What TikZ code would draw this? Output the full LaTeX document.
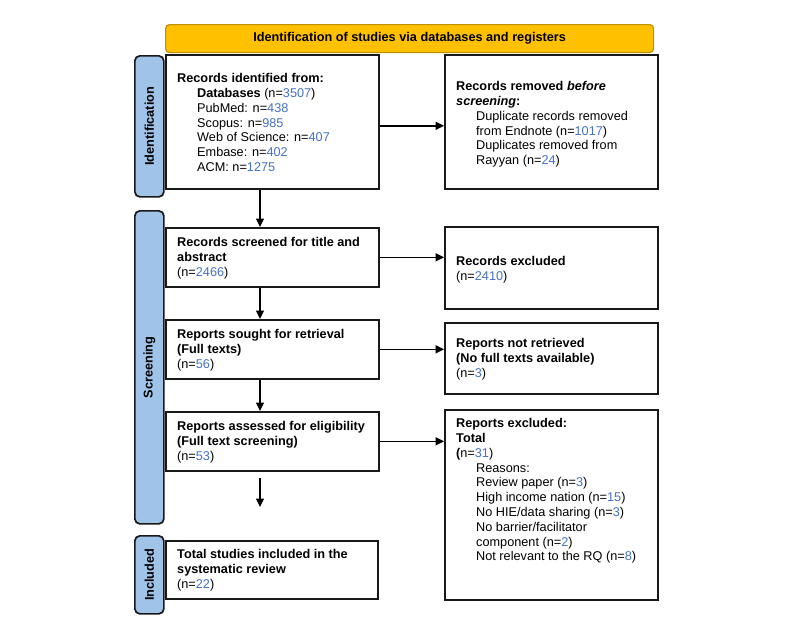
\documentclass[tikz,border=0pt]{standalone}
\usepackage{fontspec}
\setmainfont{Liberation Sans}
\usetikzlibrary{arrows.meta}
\definecolor{numblue}{RGB}{68,114,196}
\definecolor{sidefill}{RGB}{160,196,232}
\definecolor{bannerfill}{RGB}{255,192,0}
\definecolor{bannerdraw}{RGB}{191,144,0}
\newcommand{\nb}[1]{\textcolor{numblue}{#1}}
\newcommand{\ind}{\hspace*{20pt}}
\newcommand{\fst}{\rule{0pt}{10.4pt}}
\begin{document}
\begin{tikzpicture}[x=1pt,y=-1pt,
  flowbox/.style={draw=black!90, line width=1.6pt, fill=white, rectangle, inner sep=0pt, anchor=north west},
  sidebar/.style={draw=black!90, line width=1.7pt, fill=sidefill, rectangle, rounded corners=5pt, inner sep=0pt, anchor=north west, minimum width=29pt},
  sidelabel/.style={rotate=90, font=\fontsize{12.7}{14.8}\selectfont\bfseries, inner sep=0pt},
  txt/.style={anchor=north west, inner sep=0pt, align=left, font=\fontsize{12.7}{14.8}\selectfont},
  arr/.style={line width=1.5pt, -{Triangle[length=8.5pt,width=8pt]}}
]
\useasboundingbox (0,0) rectangle (800,635);
\fill[white] (0,0) rectangle (800,635);

% banner
\node[draw=bannerdraw, line width=1.2pt, fill=bannerfill, rounded corners=4pt, anchor=north west,
      minimum width=488pt, minimum height=28pt, inner sep=0pt] (banner) at (165,24) {};
\node[font=\fontsize{12.7}{14.8}\selectfont\bfseries, inner sep=0pt] (bannertxt) at (banner.center) {Identification of studies via databases and registers};

% sidebars
\node[sidebar, minimum height=141pt] (s1) at (134,55) {};
\node[sidelabel] (s1t) at (s1.center) {Identification};
\node[sidebar, minimum height=313pt] (s2) at (134,210) {};
\node[sidelabel] (s2t) at (s2.center) {Screening};
\node[sidebar, minimum height=78pt] (s3) at (134,535) {};
\node[sidelabel] (s3t) at (s3.center) {Included};

% boxes
\node[flowbox, minimum width=213pt, minimum height=134pt] (b1) at (165,54) {};
\node[txt] (t1) at (177,72) {\fst\textbf{Records identified from:}\\
  \ind\textbf{Databases} (n=\nb{3507})\\
  \ind PubMed: n=\nb{438}\\
  \ind Scopus: n=\nb{985}\\
  \ind Web of Science: n=\nb{407}\\
  \ind Embase: n=\nb{402}\\
  \ind ACM: n=\nb{1275}};

\node[flowbox, minimum width=213pt, minimum height=134pt] (b2) at (444,54) {};
\node[txt] (t2) at (456,80) {\fst\textbf{Records removed \textit{before}}\\
  \textbf{\textit{screening}:}\\
  \ind Duplicate records removed\\
  \ind from Endnote (n=\nb{1017})\\
  \ind Duplicates removed from\\
  \ind Rayyan (n=\nb{24})};

\node[flowbox, minimum width=213pt, minimum height=59pt] (b3) at (165,227) {};
\node[txt] (t3) at (177,236) {\fst\textbf{Records screened for title and}\\
  \textbf{abstract}\\
  (n=\nb{2466})};

\node[flowbox, minimum width=213pt, minimum height=82pt] (b4) at (444,226) {};
\node[txt] (t4) at (456,255) {\fst\textbf{Records excluded}\\
  (n=\nb{2410})};

\node[flowbox, minimum width=213pt, minimum height=59pt] (b5) at (165,319) {};
\node[txt] (t5) at (177,328) {\fst\textbf{Reports sought for retrieval}\\
  \textbf{(Full texts)}\\
  (n=\nb{56})};

\node[flowbox, minimum width=213pt, minimum height=71pt] (b6) at (444,322) {};
\node[txt] (t6) at (456,337) {\fst\textbf{Reports not retrieved}\\
  \textbf{(No full texts available)}\\
  (n=\nb{3})};

\node[flowbox, minimum width=213pt, minimum height=59pt] (b7) at (165,411) {};
\node[txt] (t7) at (177,420) {\fst\textbf{Reports assessed for eligibility}\\
  \textbf{(Full text screening)}\\
  (n=\nb{53})};

\node[flowbox, minimum width=213pt, minimum height=190pt] (b8) at (444,409) {};
\node[txt] (t8) at (456,417) {\fst\textbf{Reports excluded:}\\
  \textbf{Total}\\
  \textbf{(}n=\nb{31})\\
  \ind Reasons:\\
  \ind Review paper (n=\nb{3})\\
  \ind High income nation (n=\nb{15})\\
  \ind No HIE/data sharing (n=\nb{3})\\
  \ind No barrier/facilitator\\
  \ind component (n=\nb{2})\\
  \ind Not relevant to the RQ (n=\nb{8})};

\node[flowbox, minimum width=212pt, minimum height=58pt] (b9) at (165,540) {};
\node[txt] (t9) at (177,548) {\fst\textbf{Total studies included in the}\\
  \textbf{systematic review}\\
  (n=\nb{22})};

% connectors
\coordinate (col) at (260,0);
\coordinate (freeend) at (260,507);
\draw[arr] ([yshift=-4pt]b1.east) -- ([yshift=-4pt]b1.east -| b2.west);
\draw[arr] (b1.south -| col) -- (b3.north -| col);
\draw[arr] (b3.east) -- (b3.east -| b4.west);
\draw[arr] (b3.south -| col) -- (b5.north -| col);
\draw[arr] (b5.east) -- (b5.east -| b6.west);
\draw[arr] (b5.south -| col) -- (b7.north -| col);
\draw[arr] (b7.east) -- (b7.east -| b8.west);
\draw[arr] ([yshift=-6pt]b7.south -| col) -- (freeend);
\end{tikzpicture}
\end{document}
